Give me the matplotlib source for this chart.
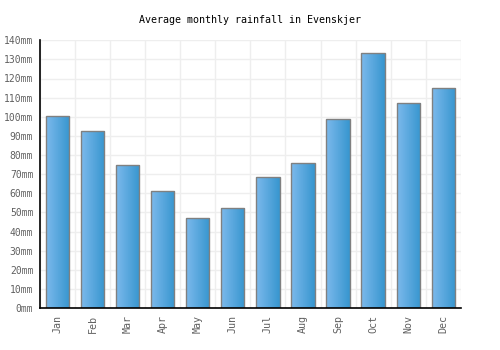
import matplotlib
matplotlib.use("Agg")
import matplotlib.pyplot as plt
import numpy as np
from matplotlib.colors import LinearSegmentedColormap

months = ["Jan", "Feb", "Mar", "Apr", "May", "Jun", "Jul", "Aug", "Sep", "Oct", "Nov", "Dec"]
rainfall = [100.3, 92.6, 75, 61.2, 47, 52.3, 68.6, 75.9, 99, 133.2, 107.3, 115.2]
yticks = list(range(0, 150, 10))
ytick_labels = [f"{v}mm" for v in yticks]
title = "Average monthly rainfall in Evenskjer"

plt.rcParams['font.family'] = ['DejaVu Sans Mono']

fig = plt.figure(figsize=(5, 3.5), dpi=100)
ax = fig.add_axes([0.0806, 0.12, 0.8406, 0.765])

x = np.arange(len(months))

# grid
for v in yticks:
    ax.axhline(v, color="#eeeeee", lw=1, zorder=0)
for b in np.arange(-0.5, len(months), 1.0):
    ax.axvline(b, color="#eeeeee", lw=1, zorder=0)

bars = ax.bar(x, rainfall, width=0.66, facecolor="none", edgecolor="#808080", lw=1.0, zorder=3)
cmap = LinearSegmentedColormap.from_list("g", ["#7cb9ec", "#3796cf"])
grad = np.linspace(0, 1, 64).reshape(1, -1)
for b in bars:
    x0, y0 = b.get_x(), b.get_y()
    w, h = b.get_width(), b.get_height()
    im = ax.imshow(grad, cmap=cmap, aspect="auto", extent=[x0, x0 + w, y0, y0 + h], zorder=2, interpolation="bilinear")
    im.set_clip_path(b)

ax.set_xlim(-0.5, len(months) - 0.5)
ax.set_ylim(0, 140)

ax.set_xticks(x)
ax.set_xticklabels(months, rotation=90, fontsize=7.2, color="#606060")
ax.set_yticks(yticks)
ax.set_yticklabels(ytick_labels, fontsize=7, color="#606060")
ax.tick_params(axis="both", length=0, pad=5)

for s in ["top", "right"]:
    ax.spines[s].set_visible(False)
for s in ["left", "bottom"]:
    ax.spines[s].set_color("black")
    ax.spines[s].set_linewidth(1.2)
    ax.spines[s].set_zorder(4)

fig.text(0.5, 0.943, title, ha="center", va="center", fontsize=7.2, color="black")

fig.savefig("out.png", dpi=100)
